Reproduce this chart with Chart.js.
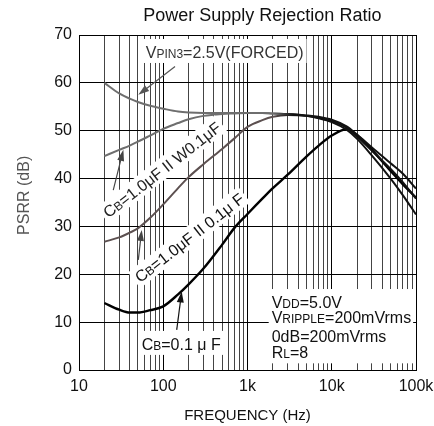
<!DOCTYPE html>
<html>
<head>
<meta charset="utf-8">
<title>Power Supply Rejection Ratio</title>
<script src="https://cdn.jsdelivr.net/npm/chart.js@4.4.1/dist/chart.umd.min.js"></script>
<style>
    html, body { margin: 0; padding: 0; background: #fff; }
    #wrap { width: 434px; height: 426px; }
</style>
</head>
<body>
<div id="wrap"><canvas id="psrrChart" width="434" height="426"></canvas></div>
<script>
// Values (Hz / dB)
const freqHz = [20, 30, 40, 50, 70, 100, 150, 200, 300, 500, 700, 1000, 1500, 2000, 3000, 5000, 7000, 10000, 15000, 20000, 30000, 50000, 70000, 100000];
const psrrForced = [60.0, 57.8, 56.7, 56.0, 55.2, 54.6, 54.0, 53.8, 53.7, 53.7, 53.7, 53.7, 53.7, 53.6, 53.5, 53.2, 52.9, 52.3, 50.9, 49.2, 46.5, 43.2, 41.0, 37.9];
const psrrCbW = [44.7, 46.0, 46.9, 47.7, 49.0, 50.4, 51.6, 52.4, 53.1, 53.5, 53.6, 53.7, 53.7, 53.6, 53.5, 53.1, 52.7, 52.0, 50.6, 48.8, 45.8, 42.0, 39.2, 35.8];
const psrrCbPar = [26.8, 27.7, 28.7, 29.6, 31.8, 34.6, 38.0, 40.3, 43.0, 46.2, 48.4, 50.8, 52.2, 52.9, 53.3, 53.1, 52.6, 51.8, 50.2, 48.3, 44.8, 40.0, 36.5, 32.5];
const psrrCb01 = [14.0, 12.6, 12.0, 12.0, 12.5, 13.3, 15.8, 17.9, 21.2, 26.2, 29.7, 32.6, 35.8, 38.0, 40.8, 44.6, 46.9, 49.0, 50.3, 49.0, 46.0, 41.6, 38.8, 36.0];

// Axis ticks
const freqTicks = [10, 100, 1000, 10000, 100000];
const freqTickLabels = ['10', '100', '1k', '10k', '100k'];
const minorMultipliers = [2, 3, 4, 5, 6, 7, 8, 9];

const FONT = '"Liberation Sans", Arial, sans-serif';
const MAIN_FONT = '16px ' + FONT;
const SUB_FONT = '12px ' + FONT;

function toPoints(values) {
    return freqHz.map((f, i) => ({ x: f, y: values[i] }));
}

// gray curves turn black towards the high-frequency end, like in the scan
function fadeToBlack(gray) {
    return function(context) {
        const chart = context.chart;
        if (!chart.chartArea) return gray;
        const x = chart.scales.x;
        const g = chart.ctx.createLinearGradient(x.getPixelForValue(2000), 0, x.getPixelForValue(3500), 0);
        g.addColorStop(0, gray);
        g.addColorStop(1, '#111');
        return g;
    };
}

function richWidth(ctx, parts) {
    let w = 0;
    parts.forEach(p => {
        ctx.font = p[1] ? SUB_FONT : MAIN_FONT;
        w += ctx.measureText(p[0]).width;
    });
    return w;
}

function drawRich(ctx, parts, x, y) {
    ctx.textAlign = 'left';
    ctx.textBaseline = 'alphabetic';
    parts.forEach(p => {
        ctx.font = p[1] ? SUB_FONT : MAIN_FONT;
        ctx.fillText(p[0], x, y);
        x += ctx.measureText(p[0]).width;
    });
}

function drawArrow(ctx, from, to, color) {
    const ang = Math.atan2(to[1] - from[1], to[0] - from[0]);
    const head = 11, half = 3.5;
    ctx.strokeStyle = color;
    ctx.fillStyle = color;
    ctx.lineWidth = 1.2;
    ctx.beginPath();
    ctx.moveTo(from[0], from[1]);
    ctx.lineTo(to[0] - Math.cos(ang) * head * 0.8, to[1] - Math.sin(ang) * head * 0.8);
    ctx.stroke();
    ctx.beginPath();
    ctx.moveTo(to[0], to[1]);
    ctx.lineTo(to[0] - head * Math.cos(ang) + half * Math.sin(ang), to[1] - head * Math.sin(ang) - half * Math.cos(ang));
    ctx.lineTo(to[0] - head * Math.cos(ang) - half * Math.sin(ang), to[1] - head * Math.sin(ang) + half * Math.cos(ang));
    ctx.closePath();
    ctx.fill();
}

function drawRotated(ctx, parts, center, deg, color) {
    ctx.save();
    ctx.translate(center[0], center[1]);
    ctx.rotate(deg * Math.PI / 180);
    const w = richWidth(ctx, parts);
    ctx.fillStyle = '#ffffff';
    ctx.fillRect(-w / 2 - 3, -10, w + 6, 20);
    ctx.fillStyle = color;
    drawRich(ctx, parts, -w / 2, 6);
    ctx.restore();
}

function drawBoxedLines(ctx, lines, x, baselines, color, padRight) {
    let w = 0;
    lines.forEach(l => { w = Math.max(w, richWidth(ctx, l)); });
    const top = baselines[0] - 19;
    const bottom = baselines[baselines.length - 1] + 5;
    ctx.fillStyle = '#ffffff';
    ctx.fillRect(x - 3, top, w + 3 + padRight, bottom - top);
    ctx.fillStyle = color;
    lines.forEach((l, i) => drawRich(ctx, l, x, baselines[i]));
}

const notesPlugin = {
    id: 'psrrNotes',
    afterDraw(chart) {
        const ctx = chart.ctx;
        const xs = chart.scales.x, ys = chart.scales.y;
        const at = (f, db) => [xs.getPixelForValue(f), ys.getPixelForValue(db)];
        ctx.save();

        // title
        ctx.fillStyle = '#111';
        ctx.font = '18px ' + FONT;
        ctx.textAlign = 'center';
        ctx.textBaseline = 'middle';
        ctx.fillText('Power Supply Rejection Ratio', at(1500, 0)[0], 16);

        // y axis title, sits a little above the middle of the plot
        ctx.save();
        ctx.translate(25, at(10, 36.5)[1]);
        ctx.rotate(-Math.PI / 2);
        ctx.fillStyle = '#555';
        ctx.font = '16px ' + FONT;
        ctx.fillText('PSRR (dB)', 0, 0);
        ctx.restore();

        // VPIN3 forced
        const p1 = at(62, 65.2);
        drawBoxedLines(ctx, [[['V'], ['PIN3', true], ['=2.5V(FORCED)']]], p1[0], [p1[1]], '#333', 3);
        drawArrow(ctx, at(138, 63.4), at(50.6, 57.5), '#555');

        // CB=1.0uF || W0.1uF
        drawRotated(ctx, [['C'], ['B', true], ['=1.0\u03bcF II W0.1\u03bcF']], at(96, 41.9), -38, '#222');
        drawArrow(ctx, at(25.5, 37.6), at(33.6, 46.0), '#444');

        // CB=1.0uF || 0.1uF
        drawRotated(ctx, [['C'], ['B', true], ['=1.0\u03bcF II 0.1\u03bc F']], at(203, 27.7), -38, '#111');
        drawArrow(ctx, at(50.6, 23.0), at(55.5, 29.25), '#444');

        // CB=0.1uF
        const p4 = at(55.5, 4.2);
        drawBoxedLines(ctx, [[['C'], ['B', true], ['=0.1 \u03bc F']]], p4[0], [p4[1]], '#111', 3);
        drawArrow(ctx, at(144.5, 8.4), at(165.6, 16.4), '#111');

        // test conditions
        const p5 = at(1937, 12.95);
        drawBoxedLines(ctx, [
            [['V'], ['DD', true], ['=5.0V']],
            [['V'], ['RIPPLE', true], ['=200mVrms']],
            [['0dB=200mVrms']],
            [['R'], ['L', true], ['=8']]
        ], p5[0], [p5[1], at(1937, 9.72)[1], at(1937, 5.95)[1], at(1937, 2.44)[1]], '#111', 2);

        ctx.restore();
    }
};

const ctx = document.getElementById('psrrChart');
new Chart(ctx, {
    type: 'line',
    data: {
        datasets: [
            { label: 'VPIN3=2.5V(FORCED)', data: toPoints(psrrForced), borderColor: fadeToBlack('#6e6e6e'), borderWidth: 2 },
            { label: 'CB=1.0uF II W0.1uF', data: toPoints(psrrCbW), borderColor: fadeToBlack('#6e6e6e'), borderWidth: 2 },
            { label: 'CB=1.0uF II 0.1uF', data: toPoints(psrrCbPar), borderColor: fadeToBlack('#5c5050'), borderWidth: 2 },
            { label: 'CB=0.1uF', data: toPoints(psrrCb01), borderColor: '#000', borderWidth: 2.4 }
        ]
    },
    options: {
        responsive: false,
        animation: false,
        devicePixelRatio: 1,
        layout: { padding: { top: 35, right: 18, left: 0, bottom: 0 } },
        elements: {
            point: { radius: 0 },
            line: { cubicInterpolationMode: 'monotone', fill: false }
        },
        plugins: {
            legend: { display: false },
            tooltip: { enabled: false },
            title: { display: false }
        },
        scales: {
            x: {
                type: 'logarithmic',
                min: 10,
                max: 100000,
                afterFit: s => {
                    s.height = 56;
                    // let the layout padding decide the plot edges
                    s.paddingLeft = 0;
                    s.paddingRight = 0;
                },
                afterBuildTicks: s => {
                    const ticks = [];
                    freqTicks.forEach(d => {
                        ticks.push({ value: d });
                        if (d < 100000) minorMultipliers.forEach(m => ticks.push({ value: d * m }));
                    });
                    s.ticks = ticks;
                },
                ticks: {
                    autoSkip: false,
                    maxRotation: 0,
                    padding: 7,
                    color: '#111',
                    font: { family: FONT, size: 16 },
                    callback: value => {
                        const i = freqTicks.indexOf(value);
                        return i >= 0 ? freqTickLabels[i] : '';
                    }
                },
                grid: {
                    drawTicks: false,
                    lineWidth: 1,
                    color: c => (c.tick && freqTicks.indexOf(c.tick.value) >= 0) ? '#000' : '#444'
                },
                border: { color: '#000', width: 1 },
                title: {
                    display: true,
                    text: 'FREQUENCY (Hz)',
                    color: '#111',
                    font: { family: FONT, size: 15 },
                    padding: { top: 0, bottom: 1 }
                }
            },
            y: {
                min: 0,
                max: 70,
                afterFit: s => {
                    s.width = 79;
                    s.paddingTop = 0;
                    s.paddingBottom = 0;
                },
                ticks: {
                    stepSize: 10,
                    padding: 7,
                    color: '#111',
                    font: { family: FONT, size: 16 }
                },
                grid: { drawTicks: false, color: '#000', lineWidth: 1 },
                border: { color: '#000', width: 1 },
                title: { display: false }
            }
        }
    },
    plugins: [notesPlugin]
});
</script>
</body>
</html>
